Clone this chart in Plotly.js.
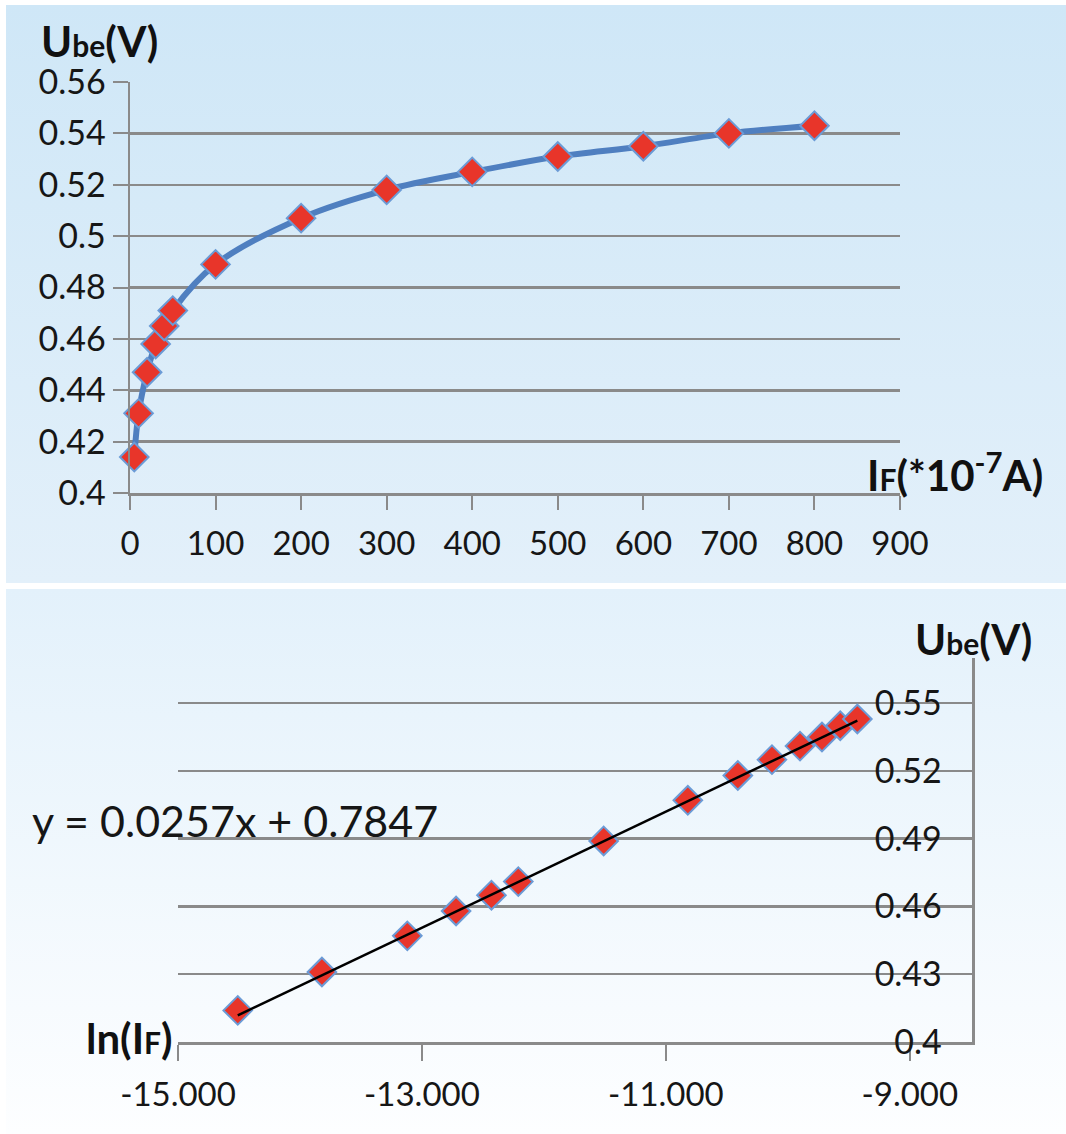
<!DOCTYPE html>
<html><head><meta charset="utf-8">
<script src="https://cdn.plot.ly/plotly-3.0.1.min.js"></script>
<style>
html,body{margin:0;padding:0;background:#fff;width:1066px;height:1134px;overflow:hidden}
#top{position:absolute;left:6px;top:5px;width:1060px;height:578px;background:linear-gradient(#cfe7f7,#e3f0fa)}
#bot{position:absolute;left:6px;top:589px;width:1060px;height:545px;background:linear-gradient(#e3f1fb,#fdfeff)}
</style></head><body>
<div id="top"></div><div id="bot"></div>
<script>
// Data
const currentIF = [5, 10, 20, 30, 40, 50, 100, 200, 300, 400, 500, 600, 700, 800];
const ube = [0.414, 0.431, 0.447, 0.458, 0.465, 0.471, 0.489, 0.507, 0.518, 0.525, 0.531, 0.535, 0.540, 0.543];
const lnIF = [-14.51, -13.82, -13.12, -12.72, -12.43, -12.21, -11.51, -10.82, -10.41, -10.13, -9.90, -9.72, -9.57, -9.43];
const trendX = [-14.51, -9.43];
const trendY = [0.4118, 0.5423];
const eqText = "y = 0.0257x + 0.7847";

const topXTicks = [0, 100, 200, 300, 400, 500, 600, 700, 800, 900];
const topXLabels = ["0", "100", "200", "300", "400", "500", "600", "700", "800", "900"];
const topYTicks = [0.4, 0.42, 0.44, 0.46, 0.48, 0.5, 0.52, 0.54, 0.56];
const topYLabels = ["0.4", "0.42", "0.44", "0.46", "0.48", "0.5", "0.52", "0.54", "0.56"];
const botXTicks = [-15, -13, -11, -9];
const botXLabels = ["-15.000", "-13.000", "-11.000", "-9.000"];
const botYTicks = [0.4, 0.43, 0.46, 0.49, 0.52, 0.55];
const botYLabels = ["0.4", "0.43", "0.46", "0.49", "0.52", "0.55"];

const FONT = "Lato, Carlito, Calibri, 'Open Sans', sans-serif";
const TXT = "#161616";
const GRID = "#8a8a8a";
const RED = "#e8352a";
const MBLUE = "#6b9bd6";
const LBLUE = "#4f7fc0";

const markerStyle = {symbol: "diamond", size: 22, color: RED, line: {color: MBLUE, width: 2}};

// Top chart
Plotly.newPlot("top", [{
  x: currentIF, y: ube, type: "scatter", mode: "lines+markers",
  line: {color: LBLUE, width: 6, shape: "spline", smoothing: 1},
  marker: markerStyle, cliponaxis: false
}], {
  width: 1060, height: 578,
  margin: {l: 124, r: 166, t: 77, b: 90},
  paper_bgcolor: "rgba(0,0,0,0)", plot_bgcolor: "rgba(0,0,0,0)",
  font: {family: FONT, color: TXT},
  showlegend: false,
  xaxis: {range: [0, 900], tickmode: "array", tickvals: topXTicks, ticktext: topXLabels,
    ticks: "outside", ticklen: 14, tickwidth: 2, tickcolor: GRID, ticklabelstandoff: 6,
    showline: true, linecolor: GRID, linewidth: 2.5, showgrid: false, zeroline: false,
    tickfont: {size: 33, family: FONT, color: TXT}},
  yaxis: {range: [0.4, 0.56], tickmode: "array", tickvals: topYTicks, ticktext: topYLabels,
    ticks: "outside", ticklen: 15, tickwidth: 2, tickcolor: GRID,
    showline: true, linecolor: GRID, linewidth: 2.5, showgrid: true, gridcolor: GRID, gridwidth: 2.5,
    zeroline: false, tickfont: {size: 34, family: FONT, color: TXT}},
  annotations: [
    {xref: "paper", yref: "paper", x: -0.118, y: 1.099, xanchor: "left", yanchor: "middle", showarrow: false,
     text: "<b>U<span style=\"font-size:30px\">be</span>(V)</b>", font: {size: 42, family: FONT, color: "#111"}},
    {xref: "paper", yref: "paper", x: 0.955, y: 0.051, xanchor: "left", yanchor: "middle", showarrow: false,
     text: "<b>I<span style=\"font-size:30px\">F</span>(*10<sup>-7</sup>A)</b>", font: {size: 42, family: FONT, color: "#111"}}
  ]
}, {displayModeBar: false, staticPlot: true});

// Bottom chart
Plotly.newPlot("bot", [{
  x: trendX, y: trendY, type: "scatter", mode: "lines", yaxis: "y2",
  line: {color: "#000", width: 2.5}, cliponaxis: false
}, {
  x: lnIF, y: ube, type: "scatter", mode: "markers",
  marker: markerStyle, cliponaxis: false
}], {
  width: 1060, height: 545,
  margin: {l: 172, r: 94, t: 69, b: 92},
  paper_bgcolor: "rgba(0,0,0,0)", plot_bgcolor: "rgba(0,0,0,0)",
  font: {family: FONT, color: TXT},
  showlegend: false,
  xaxis: {range: [-15, -8.49], tickmode: "array", tickvals: botXTicks, ticktext: botXLabels,
    ticks: "outside", ticklen: 16, tickwidth: 2, tickcolor: GRID, ticklabelstandoff: 6,
    showline: true, linecolor: GRID, linewidth: 2.5, showgrid: false, zeroline: false,
    tickfont: {size: 33, family: FONT, color: TXT}},
  yaxis: {range: [0.4, 0.57], side: "right", tickmode: "array", tickvals: botYTicks,
    ticks: "", showticklabels: false,
    showline: true, linecolor: GRID, linewidth: 2.5, showgrid: true, gridcolor: GRID, gridwidth: 2.5,
    zeroline: false},
  yaxis2: {range: [0.4, 0.57], overlaying: "y", side: "left", anchor: "free", position: 0.962,
    tickmode: "array", tickvals: botYTicks, ticktext: botYLabels, ticks: "",
    showline: false, showgrid: false, zeroline: false,
    tickfont: {size: 34, family: FONT, color: TXT}},
  annotations: [
    {xref: "paper", yref: "paper", x: 0.926, y: 1.049, xanchor: "left", yanchor: "middle", showarrow: false,
     text: "<b>U<span style=\"font-size:30px\">be</span>(V)</b>", font: {size: 42, family: FONT, color: "#111"}},
    {xref: "paper", yref: "paper", x: -0.004, y: 0.01, xanchor: "right", yanchor: "middle", showarrow: false,
     text: "<b>ln(I<span style=\"font-size:30px\">F</span>)</b>", font: {size: 42, family: FONT, color: "#111"}},
    {xref: "paper", yref: "paper", x: -0.186, y: 0.578, xanchor: "left", yanchor: "middle", showarrow: false,
     text: eqText, font: {size: 43, family: FONT, color: TXT}}
  ]
}, {displayModeBar: false, staticPlot: true});
</script>
</body></html>
